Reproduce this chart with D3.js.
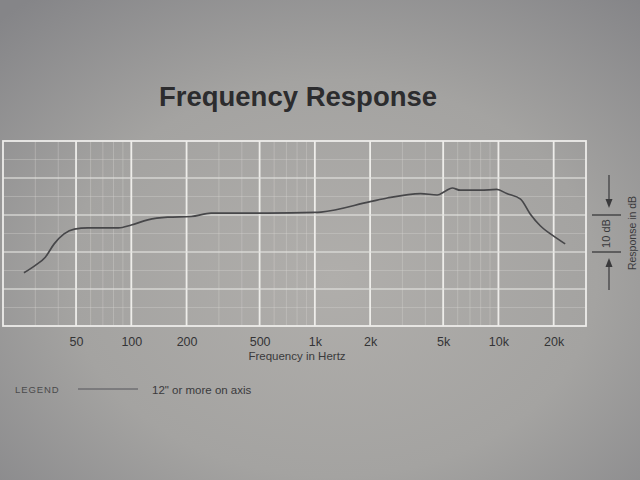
<!DOCTYPE html>
<html>
<head>
<meta charset="utf-8">
<script src="https://cdn.jsdelivr.net/npm/d3@7"></script>
<style>
    body { margin: 0; background: #9c9c9b; }
    svg { display: block; font-family: 'Liberation Sans', Arial, sans-serif; }
</style>
</head>
<body>
<div id="chart-holder"></div>
<script>
// Frequency response chart

// Curve (Hz, dB)
const freqs = [26, 30, 34, 38, 43, 49, 58, 85, 100, 123, 158, 212, 272, 364, 553, 1000, 1080,
               2000, 2480, 3770, 4640, 5150, 5600, 6200, 8000, 9800, 11100, 13200, 14900, 16900, 20000, 23100];
const responseDb = [-15.6, -13.6, -11.4, -7.8, -5.1, -3.8, -3.5, -3.5, -2.7, -1.3, -0.6, -0.4, 0.5, 0.5, 0.5, 0.7, 0.8,
                    3.6, 4.6, 5.8, 5.4, 6.5, 7.3, 6.7, 6.7, 6.9, 5.8, 4.3, 0.3, -2.9, -5.7, -7.8];

const majorTicks = [50, 100, 200, 500, 1000, 2000, 5000, 10000, 20000];
const tickLabels = ['50', '100', '200', '500', '1k', '2k', '5k', '10k', '20k'];
const freqDomain = [20, 30000];
const dbDomain = [-30, 20];

const width = 640, height = 480;

var svg = d3.select('#chart-holder')
            .append('svg')
            .attr('width', width)
            .attr('height', height);

// photo-like paper background
let defs = svg.append('defs');
let grad = defs.append('radialGradient')
    .attr('id', 'paper')
    .attr('cx', '52%').attr('cy', '58%').attr('r', '75%');
grad.append('stop').attr('offset', '0%').attr('stop-color', '#b0aeab');
grad.append('stop').attr('offset', '55%').attr('stop-color', '#a4a3a1');
grad.append('stop').attr('offset', '100%').attr('stop-color', '#858588');

// soft focus like the photo
defs.append('filter')
    .attr('id', 'soft')
    .append('feGaussianBlur')
    .attr('stdDeviation', 0.7);

svg.append('rect')
    .attr('width', width)
    .attr('height', height)
    .attr('fill', 'url(#paper)');

var x = d3.scaleLog().domain(freqDomain).range([3, 586]);
var y = d3.scaleLinear().domain(dbDomain).range([326, 141]);

// minor grid: every 1..9 step of each decade, plus 5 dB rows
let minorX = [];
[10, 100, 1000, 10000].forEach(dec => {
    for (let k = 1; k < 10; k++) {
        let f = dec * k;
        if (f > freqDomain[0] && f < freqDomain[1] && !majorTicks.includes(f)) minorX.push(f);
    }
});

let gridG = svg.append('g').attr('fill', 'none').attr('filter', 'url(#soft)');

gridG.selectAll('.minor-x')
    .data(minorX)
    .join('line')
    .classed('minor-x', true)
    .attr('x1', d => x(d)).attr('x2', d => x(d))
    .attr('y1', y(dbDomain[0])).attr('y2', y(dbDomain[1]))
    .attr('stroke', '#d6d4d0')
    .attr('stroke-opacity', 0.35)
    .attr('stroke-width', 1);

gridG.selectAll('.minor-y')
    .data(d3.range(dbDomain[0] + 5, dbDomain[1], 10))
    .join('line')
    .classed('minor-y', true)
    .attr('x1', x(freqDomain[0])).attr('x2', x(freqDomain[1]))
    .attr('y1', d => y(d)).attr('y2', d => y(d))
    .attr('stroke', '#d6d4d0')
    .attr('stroke-opacity', 0.35)
    .attr('stroke-width', 1);

gridG.selectAll('.major-x')
    .data(majorTicks)
    .join('line')
    .classed('major-x', true)
    .attr('x1', d => x(d)).attr('x2', d => x(d))
    .attr('y1', y(dbDomain[0])).attr('y2', y(dbDomain[1]))
    .attr('stroke', '#eeedea')
    .attr('stroke-width', 1.8);

gridG.selectAll('.major-y')
    .data(d3.range(dbDomain[0] + 10, dbDomain[1], 10))
    .join('line')
    .classed('major-y', true)
    .attr('x1', x(freqDomain[0])).attr('x2', x(freqDomain[1]))
    .attr('y1', d => y(d)).attr('y2', d => y(d))
    .attr('stroke', '#e2e1de')
    .attr('stroke-opacity', 0.8)
    .attr('stroke-width', 1.3);

gridG.append('rect')
    .attr('x', x(freqDomain[0]))
    .attr('y', y(dbDomain[1]))
    .attr('width', x(freqDomain[1]) - x(freqDomain[0]))
    .attr('height', y(dbDomain[0]) - y(dbDomain[1]))
    .attr('stroke', '#eeedea')
    .attr('stroke-width', 1.8);

// response curve
let line = d3.line()
    .x(d => x(d[0]))
    .y(d => y(d[1]))
    .curve(d3.curveMonotoneX);

svg.append('path')
    .datum(d3.zip(freqs, responseDb))
    .attr('d', line)
    .attr('fill', 'none')
    .attr('stroke', '#47474a')
    .attr('stroke-width', 1.7)
    .attr('stroke-linejoin', 'round')
    .attr('filter', 'url(#soft)');

// x axis labels
let axisG = svg.append('g')
    .attr('transform', `translate(0,${y(dbDomain[0])})`)
    .call(d3.axisBottom(x).tickValues(majorTicks).tickSize(0).tickPadding(11)
        .tickFormat((d, i) => tickLabels[i]));
axisG.select('.domain').remove();
axisG.selectAll('text')
    .attr('font-family', "'Liberation Sans', Arial, sans-serif")
    .attr('font-size', 12.5)
    .attr('fill', '#343436');

svg.append('text')
    .attr('x', 297).attr('y', 360)
    .attr('text-anchor', 'middle')
    .attr('font-size', 11.5)
    .attr('fill', '#3a3a3c')
    .text('Frequency in Hertz');

// title
svg.append('text')
    .attr('x', 298).attr('y', 106)
    .attr('text-anchor', 'middle')
    .attr('font-size', 27.5)
    .attr('font-weight', 'bold')
    .attr('fill', '#2c2c2e')
    .text('Frequency Response');

// 10 dB scale marker on the right
let scaleG = svg.append('g').attr('stroke', '#3a3a3c').attr('fill', '#3a3a3c');
let ax = 609;
[y(0), y(-10)].forEach(v => {
    scaleG.append('line')
        .attr('x1', 592).attr('x2', 621)
        .attr('y1', v).attr('y2', v)
        .attr('stroke-width', 1.3);
});
scaleG.append('line').attr('x1', ax).attr('x2', ax).attr('y1', 175).attr('y2', 200).attr('stroke-width', 1.2);
scaleG.append('path').attr('d', `M${ax - 3.5},199 L${ax + 3.5},199 L${ax},208 Z`).attr('stroke', 'none');
scaleG.append('line').attr('x1', ax).attr('x2', ax).attr('y1', 266).attr('y2', 290).attr('stroke-width', 1.2);
scaleG.append('path').attr('d', `M${ax - 3.5},267 L${ax + 3.5},267 L${ax},258 Z`).attr('stroke', 'none');

svg.append('text')
    .attr('transform', `translate(610,${y(-5)}) rotate(-90)`)
    .attr('text-anchor', 'middle')
    .attr('font-size', 11)
    .attr('fill', '#3a3a3c')
    .text('10 dB');

svg.append('text')
    .attr('transform', `translate(636,233) rotate(-90)`)
    .attr('text-anchor', 'middle')
    .attr('font-size', 10.5)
    .attr('fill', '#3a3a3c')
    .text('Response in dB');

// legend
svg.append('text')
    .attr('x', 15).attr('y', 393)
    .attr('font-size', 9.5)
    .attr('letter-spacing', 0.9)
    .attr('fill', '#4a4a4c')
    .text('LEGEND');

svg.append('line')
    .attr('x1', 78).attr('x2', 138)
    .attr('y1', 389).attr('y2', 389)
    .attr('stroke', '#55555a')
    .attr('stroke-width', 1);

svg.append('text')
    .attr('x', 152).attr('y', 394)
    .attr('font-size', 11.5)
    .attr('fill', '#3a3a3c')
    .text('12" or more on axis');
</script>
</body>
</html>
